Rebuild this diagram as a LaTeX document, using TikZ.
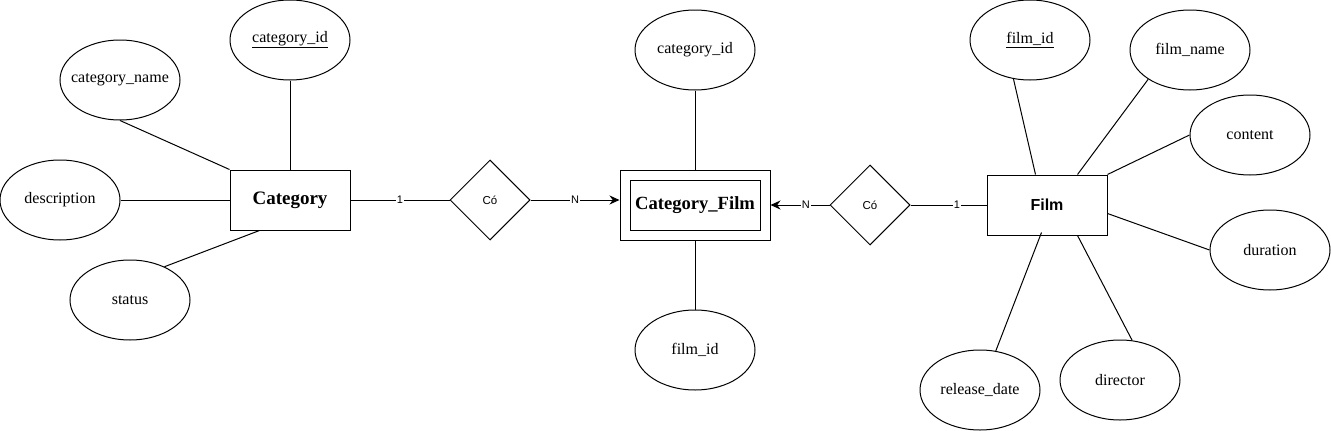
\documentclass[tikz,border=0pt]{standalone}
\usepackage{fontspec}
\setmainfont{Liberation Serif}
\newfontfamily\arialfont{Liberation Sans}
\usetikzlibrary{shapes.geometric,arrows.meta,calc}
\newcommand{\zw}[1]{\makebox[0pt][c]{#1}}
\tikzset{
  attr/.style={draw, ellipse, line width=1pt, minimum width=120pt, minimum height=80pt, inner sep=0pt, font=\fontsize{16}{19}\selectfont},
  entity/.style={draw, rectangle, line width=1pt, minimum width=120pt, minimum height=60pt, inner sep=0pt},
  rel/.style={draw, diamond, line width=1pt, minimum width=80pt, minimum height=80pt, inner sep=0pt, font=\arialfont\fontsize{11.5}{13}\selectfont},
  conn/.style={line width=1pt},
  arr/.style={line width=1pt, -{Stealth[length=10pt,width=9pt]}},
  card/.style={fill=white, inner sep=1pt, font=\arialfont\fontsize{11}{12}\selectfont}
}
\begin{document}
\begin{tikzpicture}[x=1pt,y=-1pt]
\useasboundingbox (0,0) rectangle (1331,431);
% Category side
\node[attr] (cid) at (290,40) {\zw{\underline{category\_id}}};
\node[attr] (cname) at (120,80) {\zw{category\_name}};
\node[attr] (desc) at (60,200) {\zw{description}};
\node[attr] (status) at (130,300) {\zw{status}};
\node[entity, font=\bfseries\fontsize{19}{22}\selectfont] (cat) at (290,200) {Category};
\draw[conn] (cname.south) -- (cat.north west);
\draw[conn] (cid.south) -- (cat.north);
\draw[conn] (desc.east) -- (cat.west);
\draw[conn] (status.44) -- ($(cat.south west)+(30,0)$);
% relation 1
\node[rel] (rel1) at (490,200) {Có};
% Category_Film
\node[draw, rectangle, line width=1pt, minimum width=150pt, minimum height=70pt, inner sep=0pt] (cfo) at (695,205) {};
\node[draw, rectangle, line width=1pt, minimum width=130pt, minimum height=50pt, inner sep=0pt, font=\bfseries\fontsize{18.6}{22}\selectfont] (cf) at (695,205) {Category\_Film};
\node[attr] (cid2) at (695,50) {\zw{category\_id}};
\node[attr] (fid2) at (695,350) {\zw{film\_id}};
\draw[conn] (cid2.south) -- (cfo.north);
\draw[conn] (cfo.south) -- (fid2.north);
\draw[conn] (cat.east) -- node[card] {1} (rel1.west);
\draw[arr] (rel1.east) -- node[card] {N} (rel1.east -| cfo.west);
% relation 2
\node[rel] (rel2) at (870,205) {Có};
\draw[arr] (rel2.west) -- node[card, pos=0.4] {N} (cfo.east);
% Film side
\node[entity, font=\arialfont\bfseries\fontsize{16}{19}\selectfont] (film) at (1047,205) {Film};
\draw[conn] (rel2.east) -- node[card, pos=0.61] {1} (film.west);
\node[attr] (fid) at (1030,40) {\zw{\underline{film\_id}}};
\node[attr] (fname) at (1190,50) {\zw{film\_name}};
\node[attr] (content) at (1250,135) {\zw{content}};
\node[attr] (dur) at (1270,250) {\zw{duration}};
\node[attr] (dir) at (1120,380) {\zw{director}};
\node[attr] (rdate) at (980,390) {\zw{release\_date}};
\draw[conn] (fid.-113) -- ($(film.north west)+(49,0)$);
\draw[conn] (fname.-145) -- ($(film.north west)+(91,0)$);
\draw[conn] (content.west) -- (film.north east);
\draw[conn] (dur.west) -- ($(film.north east)+(0,39)$);
\draw[conn] (dir.73) -- ($(film.south west)+(91,0)$);
\draw[conn] (rdate.68) -- ($(film.south west)+(55,-3)$);
\end{tikzpicture}
\end{document}
